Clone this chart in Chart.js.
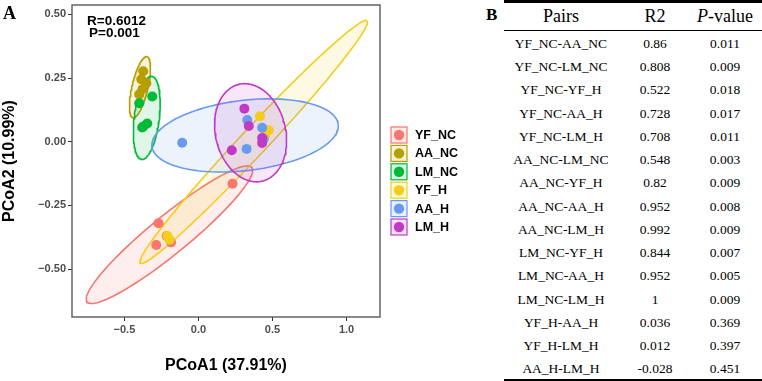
<!DOCTYPE html>
<html>
<head>
<meta charset="utf-8">
<script src="https://cdn.jsdelivr.net/npm/chart.js@4.4.1/dist/chart.umd.min.js"></script>
<style>
html, body { margin: 0; padding: 0; background: #fff; }
#wrap { position: relative; width: 762px; height: 381px; overflow: hidden; }
#chartBox { position: absolute; left: 0; top: 0; width: 480px; height: 381px; }
#tbl { position: absolute; left: 504px; top: 0; width: 258px; height: 381px; font-family: "Liberation Serif", "Times New Roman", serif; color: #000; }
#tbl .rule { position: absolute; left: 0; width: 258px; background: #000; }
#tbl .row { position: absolute; left: 0; width: 258px; height: 23px; line-height: 23px; font-size: 13.5px; }
#tbl .row span { position: absolute; top: 0; text-align: center; }
#tbl .head { font-size: 18px; height: 28px; line-height: 28px; }
#tagB { position: absolute; left: 486px; top: 5px; font: bold 17px "Liberation Serif", serif; }
</style>
</head>
<body>
<div id="wrap">
  <div id="chartBox"><canvas id="chartPcoa"></canvas></div>
  <div id="tagB">B</div>
  <div id="tbl"></div>
</div>
<script>
// ── Grupos y coordenadas (PCoA1, PCoA2) ──
const groups = ['YF_NC', 'AA_NC', 'LM_NC', 'YF_H', 'AA_H', 'LM_H'];
const colors = ['#F8766D', '#B79F00', '#00BA38', '#F5CD1B', '#6A9AF0', '#C13AC7'];

const yfNcX = [0.23, -0.27, -0.285, -0.185, -0.215];
const yfNcY = [-0.165, -0.32, -0.405, -0.395, -0.37];
const aaNcX = [-0.373, -0.352, -0.379, -0.40, -0.386];
const aaNcY = [0.277, 0.230, 0.206, 0.186, 0.245];
const lmNcX = [-0.312, -0.40, -0.373, -0.346, -0.38];
const lmNcY = [0.178, 0.151, 0.060, 0.072, 0.056];
const yfHX = [0.415, 0.475, 0.45, -0.21, -0.195];
const yfHY = [0.10, 0.045, 0.025, -0.37, -0.385];
const aaHX = [-0.11, 0.325, 0.43, 0.33, 0.44];
const aaHY = [-0.004, -0.028, 0.055, 0.085, 0.01];
const lmHX = [0.31, 0.34, 0.43, 0.43, 0.225];
const lmHY = [0.13, 0.062, 0.015, -0.005, -0.033];

const pointsX = [yfNcX, aaNcX, lmNcX, yfHX, aaHX, lmHX];
const pointsY = [yfNcY, aaNcY, lmNcY, yfHY, aaHY, lmHY];

// ── Elipses: centro y semiejes conjugados (unidades de datos) ──
const ellipseCx = [-0.196, -0.395, -0.349, 0.373, 0.315, 0.352];
const ellipseCy = [-0.365, 0.2146, 0.0937, -0.001, 0.0248, 0.0354];
const ellipseUx = [0.556, 0.0474, 0.0339, 0.766, 0.629, 0.0793];
const ellipseUy = [0.264, 0.120, 0.163, 0.476, 0.0433, -0.190];
const ellipseVx = [0.0813, 0.0528, 0.084, 0.0663, 0.0278, 0.230];
const ellipseVy = [-0.0579, -0.0071, -0.0059, -0.036, -0.137, 0.0323];

// ── Ejes ──
const xTicks = [-0.5, 0, 0.5, 1.0];
const yTicks = [-0.5, -0.25, 0, 0.25, 0.5];
const statLines = ['R=0.6012', 'P=0.001'];

// ── Tabla B ──
const pairs = ['YF_NC-AA_NC', 'YF_NC-LM_NC', 'YF_NC-YF_H', 'YF_NC-AA_H', 'YF_NC-LM_H',
    'AA_NC-LM_NC', 'AA_NC-YF_H', 'AA_NC-AA_H', 'AA_NC-LM_H', 'LM_NC-YF_H',
    'LM_NC-AA_H', 'LM_NC-LM_H', 'YF_H-AA_H', 'YF_H-LM_H', 'AA_H-LM_H'];
const r2 = ['0.86', '0.808', '0.522', '0.728', '0.708', '0.548', '0.82', '0.952',
    '0.992', '0.844', '0.952', '1', '0.036', '0.012', '-0.028'];
const pValues = ['0.011', '0.009', '0.018', '0.017', '0.011', '0.003', '0.009', '0.008',
    '0.009', '0.007', '0.005', '0.009', '0.369', '0.397', '0.451'];

function hexA(hex, a) {
    const n = parseInt(hex.slice(1), 16);
    return `rgba(${n >> 16},${(n >> 8) & 255},${n & 255},${a})`;
}

function ellipsePts(i) {
    const pts = [];
    for (let k = 0; k <= 120; k++) {
        const t = k / 120 * 2 * Math.PI;
        pts.push({
            x: ellipseCx[i] + ellipseUx[i] * Math.cos(t) + ellipseVx[i] * Math.sin(t),
            y: ellipseCy[i] + ellipseUy[i] * Math.cos(t) + ellipseVy[i] * Math.sin(t)
        });
    }
    return pts;
}

const fmt = (v, d) => (v < 0 ? '\u2212' : '') + Math.abs(v).toFixed(d);

const datasets = [];
groups.forEach((g, i) => {
    datasets.push({
        type: 'scatter',
        label: g,
        data: pointsX[i].map((x, k) => ({ x, y: pointsY[i][k] })),
        pointRadius: 5,
        pointBorderWidth: 0,
        pointBackgroundColor: colors[i],
        order: 5 - i
    });
});
groups.forEach((g, i) => {
    datasets.push({
        type: 'line',
        label: g + ' ellipse',
        data: ellipsePts(i),
        borderColor: colors[i],
        borderWidth: 1.6,
        backgroundColor: hexA(colors[i], 0.12),
        fill: 'shape',
        pointRadius: 0,
        tension: 0,
        order: 20 - i
    });
});

const axisFont = { family: '"Liberation Sans", Arial, sans-serif', weight: 'bold', size: 11 };
const titleFont = { family: '"Liberation Sans", Arial, sans-serif', weight: 'bold', size: 16 };

const decor = {
    id: 'decor',
    afterDraw(chart) {
        const { ctx, chartArea: a } = chart;
        ctx.save();
        ctx.strokeStyle = '#5a5a5a';
        ctx.lineWidth = 1.4;
        ctx.strokeRect(a.left, a.top, a.right - a.left, a.bottom - a.top);

        ctx.fillStyle = '#000';
        ctx.textBaseline = 'middle';
        ctx.font = 'bold 13.5px "Liberation Sans", Arial, sans-serif';
        ctx.fillText(statLines[0], 87, 21);
        ctx.fillText(statLines[1], 89, 33);

        // leyenda
        groups.forEach((g, i) => {
            const y = 135 + i * 18.4;
            ctx.fillStyle = '#fff';
            ctx.fillRect(391, y - 8, 16, 16);
            ctx.fillStyle = hexA(colors[i], 0.15);
            ctx.fillRect(391, y - 8, 16, 16);
            ctx.strokeStyle = colors[i];
            ctx.lineWidth = 1.2;
            ctx.strokeRect(391, y - 8, 16, 16);
            ctx.beginPath();
            ctx.arc(399, y, 5.2, 0, Math.PI * 2);
            ctx.fillStyle = colors[i];
            ctx.fill();
            ctx.fillStyle = '#000';
            ctx.font = 'bold 12.5px "Liberation Sans", Arial, sans-serif';
            ctx.fillText(g, 415, y + 0.5);
        });

        ctx.font = 'bold 18px "Liberation Serif", serif';
        ctx.fillText('A', 3, 14);
        ctx.restore();
    }
};

new Chart(document.getElementById('chartPcoa'), {
    type: 'scatter',
    data: { datasets },
    plugins: [decor],
    options: {
        responsive: true, maintainAspectRatio: false,
        animation: false,
        layout: { padding: { top: 5, right: 100, left: 0, bottom: 0 } },
        plugins: { legend: { display: false }, tooltip: { enabled: false } },
        scales: {
            x: {
                type: 'linear',
                min: -0.854, max: 1.226,
                afterBuildTicks: s => { s.ticks = xTicks.map(v => ({ value: v })); },
                afterFit: s => { s.height = 64; s.paddingLeft = 0; s.paddingRight = 0; },
                ticks: { color: '#4D4D4D', font: axisFont, padding: 2, callback: v => fmt(v, 1) },
                grid: { drawOnChartArea: false, drawTicks: true, tickLength: 4, color: '#333' },
                border: { display: false },
                title: { display: true, text: 'PCoA1 (37.91%)', color: '#000', font: titleFont, padding: { top: 0, bottom: 6 } }
            },
            y: {
                type: 'linear',
                min: -0.688, max: 0.537,
                afterBuildTicks: s => { s.ticks = yTicks.map(v => ({ value: v })); },
                afterFit: s => { s.width = 72; s.paddingTop = 0; s.paddingBottom = 0; },
                ticks: { color: '#4D4D4D', font: axisFont, padding: 2, callback: v => fmt(v, 2) },
                grid: { drawOnChartArea: false, drawTicks: true, tickLength: 4, color: '#333' },
                border: { display: false },
                title: { display: true, text: 'PCoA2 (10.99%)', color: '#000', font: titleFont, padding: { top: 0, bottom: 0 } }
            }
        }
    }
});

// ── Tabla ──
const tbl = document.getElementById('tbl');
const colLeft = [0, 114, 188];
const colWidth = [114, 74, 66];

function addRule(top, h) {
    const r = document.createElement('div');
    r.className = 'rule';
    r.style.top = top + 'px';
    r.style.height = h + 'px';
    tbl.appendChild(r);
}

function addRow(cells, top, cls) {
    const row = document.createElement('div');
    row.className = 'row' + (cls ? ' ' + cls : '');
    row.style.top = top + 'px';
    cells.forEach((c, j) => {
        const s = document.createElement('span');
        s.style.left = colLeft[j] + 'px';
        s.style.width = colWidth[j] + 'px';
        s.innerHTML = c;
        row.appendChild(s);
    });
    tbl.appendChild(row);
}

addRule(0, 2.5);
addRow(['Pairs', 'R2', '<i>P</i>-value'], 2, 'head');
addRule(30, 1);
pairs.forEach((p, i) => addRow([p, r2[i], pValues[i]], 31.8 + i * 23.25));
addRule(378.5, 2.5);
</script>
</body>
</html>
